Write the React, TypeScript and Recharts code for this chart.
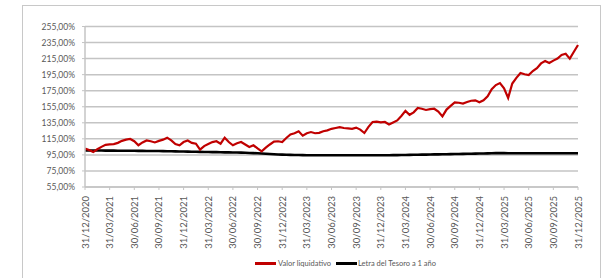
import { LineChart, Line, XAxis, YAxis, CartesianGrid } from 'recharts';

// Half-monthly samples, 31/12/2020 to 31/12/2025 (index 0..120)
const valorLiquidativo = [
  102.8, 101, 98.5, 102, 105, 107.5, 108, 108.5, 110, 112.5, 114, 114.8, 112,
  107, 110.5, 113, 112, 110.5, 112.5, 114, 116.5, 113, 108.5, 107, 111,
  113, 110, 109, 101.5, 106, 108.5, 111, 112, 109, 116.5, 111, 107,
  109.5, 111, 108, 104.8, 107, 103, 99.4, 104, 108, 111.5, 112, 111,
  116, 120.5, 122, 124.4, 119, 122, 123.5, 122, 122.5, 124.5, 125.6, 127.5,
  128.5, 129.5, 128.5, 128, 127.5, 129, 126.5, 122.3, 130, 136, 136.5, 135.5,
  136, 133, 135.5, 138, 143.5, 149.8, 145, 148, 153.5, 152.5, 151, 152,
  152.5, 149, 143, 151.5, 156, 160.5, 160, 159, 161, 162.5, 163, 160.5,
  163, 168, 177, 182, 184.5, 178, 166, 184, 191, 197, 195.5, 194.5,
  199.5, 203, 209, 212, 209.5, 212.5, 215, 219.5, 221, 215, 223.5, 232,
];

const letraTesoro = [
  100.5, 100.5, 100.4, 100.4, 100.4, 100.3, 100.3, 100.3, 100.2, 100.2, 100.2, 100.1, 100.1,
  100.0, 100.0, 99.9, 99.9, 99.8, 99.8, 99.7, 99.6, 99.5, 99.4, 99.3, 99.2,
  99.1, 99.0, 98.9, 98.8, 98.7, 98.6, 98.5, 98.4, 98.3, 98.2, 98.1, 98.0,
  97.9, 97.8, 97.6, 97.4, 97.2, 97.0, 96.7, 96.4, 96.1, 95.8, 95.5, 95.3,
  95.1, 95.0, 94.9, 94.8, 94.7, 94.6, 94.5, 94.5, 94.5, 94.5, 94.5, 94.5,
  94.5, 94.5, 94.5, 94.5, 94.5, 94.5, 94.5, 94.5, 94.5, 94.5, 94.5, 94.5,
  94.6, 94.6, 94.7, 94.7, 94.8, 94.9, 95.0, 95.1, 95.2, 95.3, 95.4, 95.5,
  95.6, 95.7, 95.8, 95.9, 96.0, 96.1, 96.2, 96.3, 96.4, 96.5, 96.6, 96.7,
  96.8, 96.9, 97.0, 97.2, 97.3, 97.2, 97.0, 97.1, 97.1, 97.1, 97.1, 97.1,
  97.1, 97.1, 97.1, 97.1, 97.1, 97.1, 97.1, 97.1, 97.1, 97.1, 97.1, 97.1,
];

const dateLabels = [
  '31/12/2020', '31/03/2021', '30/06/2021', '30/09/2021',
  '31/12/2021', '31/03/2022', '30/06/2022', '30/09/2022',
  '31/12/2022', '31/03/2023', '30/06/2023', '30/09/2023',
  '31/12/2023', '31/03/2024', '30/06/2024', '30/09/2024',
  '31/12/2024', '31/03/2025', '30/06/2025', '30/09/2025',
  '31/12/2025',
];

const yTicks = [55, 75, 95, 115, 135, 155, 175, 195, 215, 235, 255];

const chartData = valorLiquidativo.map((v, i) => ({
  i,
  valor: v,
  letra: letraTesoro[i],
}));

const xTicks = dateLabels.map((_, k) => k * 6);

const FONT = 'Lato, "Open Sans", sans-serif';

function DateTick({ x, y, payload }: any) {
  const label = dateLabels[Math.round(payload.value / 6)];
  return (
    <g transform={`translate(${x},${y + 4})`}>
      <text
        transform="rotate(-90)"
        textAnchor="end"
        dominantBaseline="central"
        fontSize={9.5}
        fontFamily={FONT}
        fill="#595959"
      >
        {label}
      </text>
    </g>
  );
}

export default function App() {
  return (
    <div style={{ position: 'absolute', left: 0, top: 0, width: 604, height: 278, background: '#fff', overflow: 'hidden' }}>
      {/* chart frame */}
      <div
        style={{
          position: 'absolute',
          left: 22,
          top: 5,
          width: 577,
          height: 290,
          border: '1px solid #c8c8c8',
        }}
      />
      <div style={{ position: 'absolute', left: 0, top: 0 }}>
        <LineChart
          width={604}
          height={278}
          data={chartData}
          margin={{ top: 26.5, right: 26, left: 0, bottom: 0 }}
        >
          <CartesianGrid vertical={false} stroke="#c4c4c4" strokeWidth={1.5} />
          <XAxis
            dataKey="i"
            type="number"
            domain={[0, 120]}
            ticks={xTicks}
            interval={0}
            height={91}
            tick={<DateTick />}
            tickSize={3}
            axisLine={{ stroke: '#c4c4c4', strokeWidth: 1.5 }}
            tickLine={{ stroke: '#c4c4c4' }}
          />
          <YAxis
            type="number"
            domain={[55, 255]}
            ticks={yTicks}
            interval={0}
            width={85}
            tickSize={3}
            tickMargin={7}
            tickFormatter={(v: number) => `${v},00%`}
            tick={{ fontSize: 8.5, fontFamily: FONT, fill: '#595959' }}
            axisLine={{ stroke: '#c4c4c4', strokeWidth: 1.5 }}
            tickLine={{ stroke: '#c4c4c4' }}
          />
          <Line
            type="linear"
            dataKey="letra"
            stroke="#000000"
            strokeWidth={2.6}
            dot={false}
            isAnimationActive={false}
          />
          <Line
            type="linear"
            dataKey="valor"
            stroke="#c00000"
            strokeWidth={2.2}
            dot={false}
            isAnimationActive={false}
          />
        </LineChart>
      </div>
      {/* legend */}
      <div
        style={{
          position: 'absolute',
          left: 255,
          top: 259,
          display: 'flex',
          alignItems: 'center',
          fontFamily: FONT,
          fontSize: 7.5,
          color: '#595959',
          whiteSpace: 'nowrap',
        }}
      >
        <span style={{ display: 'inline-block', width: 21, height: 2.5, background: '#c00000', marginRight: 2 }} />
        <span style={{ marginRight: 5 }}>Valor liquidativo</span>
        <span style={{ display: 'inline-block', width: 21, height: 2.5, background: '#000', marginRight: 1 }} />
        <span>Letra del Tesoro a 1 año</span>
      </div>
    </div>
  );
}
